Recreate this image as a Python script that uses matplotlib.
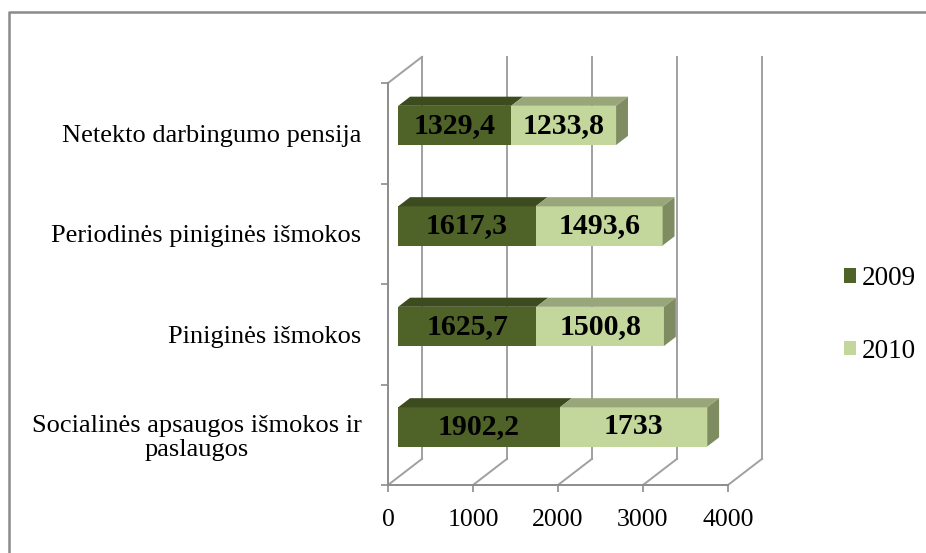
import matplotlib
matplotlib.use("Agg")
import matplotlib.pyplot as plt
from matplotlib.patches import Polygon, Patch
from matplotlib.lines import Line2D

plt.rcParams["font.family"] = ["Liberation Serif", "DejaVu Serif"]

categories = [
    "Socialinės apsaugos išmokos ir\npaslaugos",
    "Piniginės išmokos",
    "Periodinės piniginės išmokos",
    "Netekto darbingumo pensija",
]
values_2009 = [1902.2, 1625.7, 1617.3, 1329.4]
values_2010 = [1733, 1500.8, 1493.6, 1233.8]
labels_2009 = ["1902,2", "1625,7", "1617,3", "1329,4"]
labels_2010 = ["1733", "1500,8", "1493,6", "1233,8"]
series_names = ["2009", "2010"]
x_ticks = [0, 1000, 2000, 3000, 4000]

# fake 3D: oblique offset of the back wall, in data units
DX = 400
DY = 0.26
D0, D1 = 0.3, 0.65   # bar depth range (fraction of full depth)
HALF_H = 0.195

FRONT = ["#4f6228", "#c3d69b"]
TOP = ["#3d4c1f", "#98a67a"]
SIDE = "#7f8c62"
GRID = "#a0a0a0"
AXIS = "#8c8c8c"


def p(x, y, d):
    return (x + d * DX, y + d * DY)


fig = plt.figure(figsize=(9.26, 5.53), dpi=100)
ax = fig.add_axes([388 / 926, 68 / 553, 340 / 926, 402 / 553])
ax.set_xlim(0, 4000)
ax.set_ylim(-0.5, len(categories) - 0.5)
ymin, ymax = ax.get_ylim()

# back wall gridlines + floor diagonals
for t in x_ticks:
    ax.plot([t + DX, t + DX], [ymin + DY, ymax + DY], color=GRID, lw=1.4,
            clip_on=False, zorder=1)
    ax.plot([t, t + DX], [ymin, ymin + DY], color=GRID, lw=1.4,
            clip_on=False, zorder=1)
# left wall top edge
ax.plot([0, DX], [ymax, ymax + DY], color=GRID, lw=1.4, clip_on=False, zorder=1)

# bars
for i, (v1, v2) in enumerate(zip(values_2009, values_2010)):
    segs = [(0, v1), (v1, v1 + v2)]
    for k, (x0, x1) in enumerate(segs):
        fx, fy = p(x0, i, D0)
        ax.barh(fy, x1 - x0, left=fx, height=2 * HALF_H, color=FRONT[k],
                edgecolor="none", zorder=3, clip_on=False)
        top = [p(x0, i + HALF_H, D0), p(x1, i + HALF_H, D0),
               p(x1, i + HALF_H, D1), p(x0, i + HALF_H, D1)]
        ax.add_patch(Polygon(top, closed=True, facecolor=TOP[k],
                             edgecolor="none", zorder=3, clip_on=False))
    xe = v1 + v2
    side = [p(xe, i - HALF_H, D0), p(xe, i + HALF_H, D0),
            p(xe, i + HALF_H, D1), p(xe, i - HALF_H, D1)]
    ax.add_patch(Polygon(side, closed=True, facecolor=SIDE,
                         edgecolor="none", zorder=3, clip_on=False))
    # value labels
    cx, cy = p(v1 / 2, i, D0)
    ax.text(cx, cy, labels_2009[i], ha="center", va="center",
            fontsize=21.5, fontweight="bold", color="black", zorder=4)
    cx, cy = p(v1 + v2 / 2, i, D0)
    ax.text(cx, cy, labels_2010[i], ha="center", va="center",
            fontsize=21.5, fontweight="bold", color="black", zorder=4)

# axes
for s in ["top", "right"]:
    ax.spines[s].set_visible(False)
for s in ["left", "bottom"]:
    ax.spines[s].set_color(AXIS)
    ax.spines[s].set_linewidth(1.4)
ax.set_xticks(x_ticks)
ax.set_xticklabels([str(t) for t in x_ticks])
ax.tick_params(axis="x", length=5, width=1.2, color=AXIS, labelsize=18.5, pad=12)
ax.set_yticks(range(len(categories)))
ax.set_yticklabels(categories)
ax.set_yticks([k - 0.5 for k in range(len(categories) + 1)], minor=True)
ax.tick_params(axis="y", which="major", length=0, labelsize=19, pad=19)
ax.tick_params(axis="y", which="minor", length=5, width=1.2, color=AXIS)
for lab in ax.get_yticklabels():
    lab.set_multialignment("center")
    lab.set_linespacing(1.1)
ax.set_facecolor("none")

# legend
handles = [Patch(facecolor=FRONT[0]), Patch(facecolor=FRONT[1])]
fig.legend(handles, series_names, loc="center left",
           bbox_to_anchor=(844 / 926, 1 - 315 / 553), frameon=False,
           fontsize=19.5, handlelength=0.45, handleheight=0.45,
           handletextpad=0.2, labelspacing=1.75, borderpad=0,
           borderaxespad=0)

# outer chart frame (only top and left edges inside the picture)
fig.add_artist(Line2D([9 / 926, 9 / 926, 1.01], [-0.01, 1 - 12 / 553, 1 - 12 / 553],
                      transform=fig.transFigure, color="#8a8a8a", lw=1.8))

fig.savefig("out.png", dpi=100)
